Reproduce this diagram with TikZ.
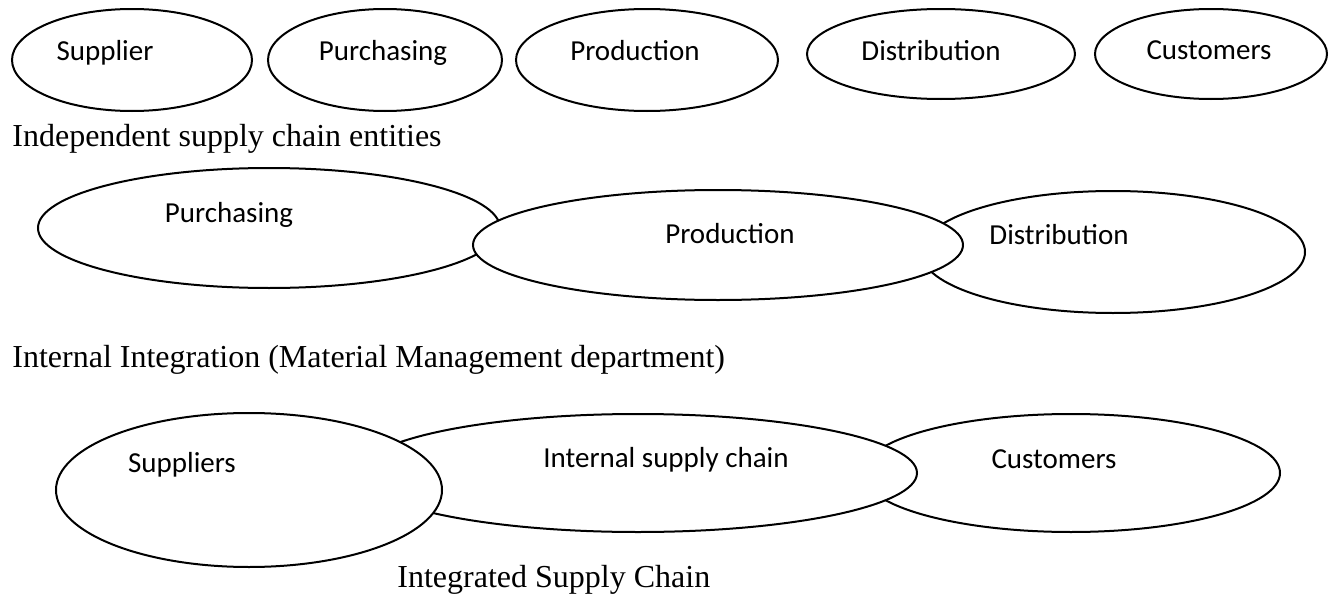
\documentclass[tikz,border=0pt]{standalone}
\usepackage{fontspec}
\setmainfont{Liberation Serif}
\newfontfamily\calib{Carlito}
\usetikzlibrary{shapes.geometric}
\begin{document}
\begin{tikzpicture}[x=0.5pt,y=-0.5pt,
  oval/.style n args={2}{ellipse, draw, fill=white, line width=1pt, inner sep=0pt,
    minimum width=#1pt, minimum height=#2pt},
  lab/.style={font=\calib\fontsize{14.5}{17}\selectfont, anchor=base, inner sep=0pt},
  captiontext/.style={font=\fontsize{16}{19}\selectfont, anchor=base west, inner sep=0pt}]
\useasboundingbox (0,0) rectangle (1335,594);

% independent entities
\node[oval={120}{51}] (sup1) at (132,60) {};
\node[oval={117}{51}] (pur1) at (385,60) {};
\node[oval={131}{51}] (pro1) at (647,60) {};
\node[oval={134}{45}] (dis1) at (941,54) {};
\node[oval={116}{45}] (cus1) at (1211,54) {};
\node[lab] (sup1t) at (105,61) {Supplier};
\node[lab] (pur1t) at (383,61) {Purchasing};
\node[lab] (pro1t) at (635,61) {Production};
\node[lab] (dis1t) at (931,61) {Distribution};
\node[lab] (cus1t) at (1209,60) {Customers};
\node[captiontext] (cap1) at (12,146) {Independent supply chain entities};

% internal integration
\node[oval={231}{60}] (pur2) at (269,228) {};
\node[oval={192}{61}] (dis2) at (1113,252) {};
\node[oval={245}{55}] (pro2) at (718,245) {};
\node[lab] (pur2t) at (229,222) {Purchasing};
\node[lab] (pro2t) at (730,243) {Production};
\node[lab] (dis2t) at (1059,244) {Distribution};
\node[captiontext] (cap2) at (12,367) {Internal Integration (Material Management department)};

% integrated supply chain
\node[oval={209}{59}] (cus3) at (1071,473) {};
\node[oval={279}{59}] (int3) at (638,473) {};
\node[oval={193}{77}] (sup3) at (249,490) {};
\node[lab] (sup3t) at (182,472) {Suppliers};
\node[lab] (int3t) at (666,467) {Internal supply chain};
\node[lab] (cus3t) at (1054,468) {Customers};
\node[captiontext] (cap3) at (397,587) {Integrated Supply Chain};
\end{tikzpicture}
\end{document}
